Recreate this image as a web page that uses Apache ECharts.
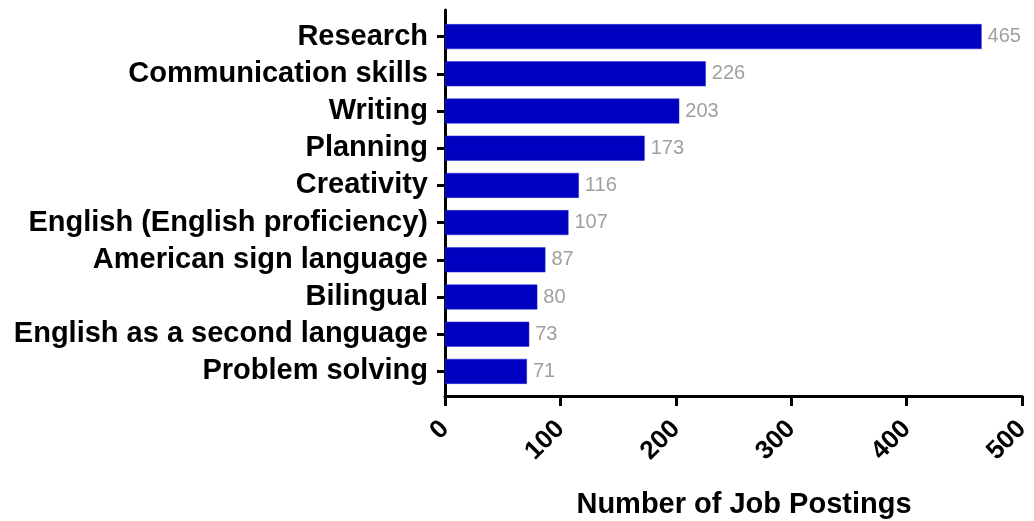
<!DOCTYPE html>
<html>
<head>
<meta charset="utf-8">
<script src="https://cdn.jsdelivr.net/npm/echarts@6/dist/echarts.min.js"></script>
<style>
html,body{margin:0;padding:0;background:#fff;}
#chart{width:1034px;height:521px;}
</style>
</head>
<body>
<div id="chart"></div>
<script>
const categories = ["Research","Communication skills","Writing","Planning","Creativity","English (English proficiency)","American sign language","Bilingual","English as a second language","Problem solving"];
const postings = [465,226,203,173,116,107,87,80,73,71];
const xTicks = [0,100,200,300,400,500];
const xTitle = "Number of Job Postings";

const FONT = "'Liberation Sans', Arial, sans-serif";
const chart = echarts.init(document.getElementById('chart'));
chart.setOption({
  backgroundColor: '#fff',
  animation: false,
  grid: [
    {left: 445, right: 12, top: 18, height: 372, containLabel: false, outerBoundsMode: 'none'},
    {left: 445, right: 12, top: 10, height: 386, containLabel: false, outerBoundsMode: 'none'}
  ],
  xAxis: [
    {gridIndex: 0, type: 'value', min: xTicks[0], max: xTicks[xTicks.length-1], show: false},
    {gridIndex: 1, type: 'value', min: xTicks[0], max: xTicks[xTicks.length-1], interval: xTicks[1]-xTicks[0],
     axisLine: {show: true, lineStyle: {color: '#000', width: 3}},
     axisTick: {show: true, length: 10, lineStyle: {color: '#000', width: 3}},
     axisLabel: {rotate: 45, margin: 29, color: '#000', fontWeight: 'bold', fontSize: 26, fontFamily: FONT},
     splitLine: {show: false},
     name: xTitle, nameLocation: 'middle', nameGap: 94,
     nameTextStyle: {color: '#000', fontWeight: 'bold', fontSize: 29, fontFamily: FONT, padding: [0,0,0,21]}
    }
  ],
  yAxis: [
    {gridIndex: 0, type: 'category', data: categories, inverse: true,
     axisLine: {show: false},
     axisTick: {show: true, alignWithLabel: true, length: 8, lineStyle: {color: '#000', width: 3}},
     axisLabel: {interval: 0, margin: 17, color: '#000', fontWeight: 'bold', fontSize: 29, fontFamily: FONT},
     splitLine: {show: false}
    },
    {gridIndex: 1, type: 'value', min: 0, max: 1,
     axisLine: {show: true, lineStyle: {color: '#000', width: 3}},
     axisTick: {show: false}, axisLabel: {show: false}, splitLine: {show: false}
    }
  ],
  series: [{
    type: 'bar', xAxisIndex: 0, yAxisIndex: 0,
    data: postings, barWidth: 25,
    itemStyle: {color: '#0000C0', borderColor: '#2a2ad0', borderWidth: 0.5},
    label: {show: true, position: 'right', distance: 6, color: '#a0a0a0', fontSize: 20, fontFamily: FONT}
  }]
});
</script>
</body>
</html>
